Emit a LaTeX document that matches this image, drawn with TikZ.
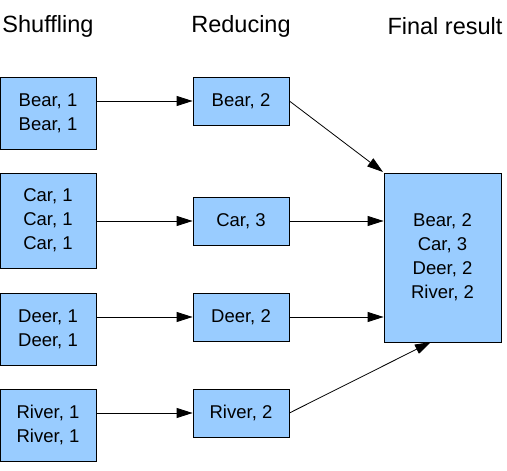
\documentclass[tikz,border=0pt]{standalone}
\usepackage{fontspec}
\setmainfont{Liberation Sans}
\usetikzlibrary{arrows.meta}
\definecolor{boxblue}{HTML}{99CCFF}

\begin{document}
\begin{tikzpicture}[x=1pt,y=-1pt,
	box_node/.style={draw,fill=boxblue,line width=0.8pt,minimum width=96pt,inner sep=0pt,align=center,font=\fontsize{18.5}{24}\selectfont},
	title_node/.style={font=\fontsize{23.5}{28}\selectfont},
	flow/.style={-{Triangle[length=16pt,width=10pt]},line width=0.8pt}]
		\useasboundingbox (0,0) rectangle (507,471);

		\node[title_node] (t1) at (48,26) {Shuffling};
		\node[title_node] (t2) at (241,26) {Reducing};
		\node[title_node] (t3) at (445,26) {Final result};

		\node[box_node,minimum height=72pt] (s1) at (48,113) {Bear, 1\\Bear, 1};
		\node[box_node,minimum height=95pt] (s2) at (48,220.5) {Car, 1\\Car, 1\\Car, 1};
		\node[box_node,minimum height=72pt] (s3) at (48,329) {Deer, 1\\Deer, 1};
		\node[box_node,minimum height=72pt] (s4) at (48,425) {River, 1\\River, 1};

		\node[box_node,minimum height=48pt] (r1) at (241,101) {Bear, 2};
		\node[box_node,minimum height=48pt] (r2) at (241,221) {Car, 3};
		\node[box_node,minimum height=48pt] (r3) at (241,317) {Deer, 2};
		\node[box_node,minimum height=48pt] (r4) at (241,413) {River, 2};

		\node[box_node,minimum width=117pt,minimum height=169pt] (f) at (442.5,257.5) {Bear, 2\\Car, 3\\Deer, 2\\River, 2};
		\coordinate (f_top) at (383,172);
		\coordinate (f_bottom) at (431,342);

		\draw[flow] (s1.east |- r1.west) -- (r1.west);
		\draw[flow] (s2.east |- r2.west) -- (r2.west);
		\draw[flow] (s3.east |- r3.west) -- (r3.west);
		\draw[flow] (s4.east |- r4.west) -- (r4.west);

		\draw[flow] (r1.east) -- (f_top);
		\draw[flow] (r2.east) -- (r2.east -| f.west);
		\draw[flow] (r3.east) -- (r3.east -| f.west);
		\draw[flow] (r4.east) -- (f_bottom);
		\end{tikzpicture}
\end{document}
